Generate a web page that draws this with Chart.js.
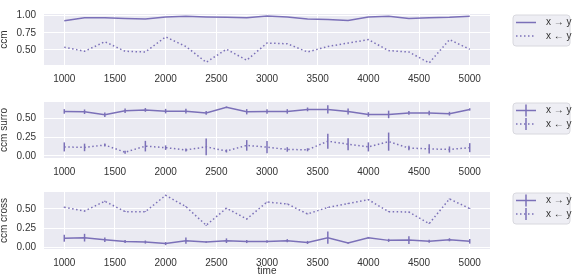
<!DOCTYPE html>
<html>
<head>
<meta charset="utf-8">
<script src="https://cdn.jsdelivr.net/npm/chart.js@4/dist/chart.umd.min.js"></script>
<style>
  html, body { margin: 0; padding: 0; background: #fff; overflow: hidden; }
  #wrap { position: relative; width: 573px; height: 275px; overflow: hidden; }
  #wrap canvas { position: absolute; left: 0; }
</style>
</head>
<body>
<div id="wrap">
  <canvas id="c1" width="573" height="88" style="top:0px"></canvas>
  <canvas id="c2" width="573" height="90" style="top:88px"></canvas>
  <canvas id="c3" width="573" height="107" style="top:178px"></canvas>
</div>
<script>
const times = [1000, 1200, 1400, 1600, 1800, 2000, 2200, 2400, 2600, 2800, 3000,
               3200, 3400, 3600, 3800, 4000, 4200, 4400, 4600, 4800, 5000];
const xTicks = [1000, 1500, 2000, 2500, 3000, 3500, 4000, 4500, 5000];
const legendLabels = ['x \u2192 y', 'x \u2190 y'];

// ccm
const ccmFwd = [0.927, 0.968, 0.968, 0.96, 0.95, 0.98, 0.99, 0.98, 0.975, 0.968, 0.995,
                0.98, 0.952, 0.944, 0.93, 0.98, 0.99, 0.96, 0.97, 0.975, 0.99];
const ccmRev = [0.54, 0.48, 0.62, 0.48, 0.47, 0.69, 0.55, 0.32, 0.51, 0.35, 0.60,
                0.59, 0.47, 0.55, 0.60, 0.65, 0.49, 0.47, 0.31, 0.65, 0.51];
const ccmTicks = [0.50, 0.75, 1.00];

// ccm surro
const surroFwd = [0.59, 0.586, 0.547, 0.60, 0.61, 0.594, 0.594, 0.57, 0.645, 0.586, 0.59,
                  0.59, 0.617, 0.617, 0.59, 0.55, 0.55, 0.57, 0.57, 0.56, 0.617];
const surroFwdErr = [0.03, 0.03, 0.03, 0.03, 0.025, 0.03, 0.03, 0.025, 0.01, 0.035, 0.03,
                     0.03, 0.025, 0.055, 0.04, 0.03, 0.05, 0.025, 0.03, 0.025, 0.015];
const surroRev = [0.12, 0.113, 0.145, 0.05, 0.13, 0.11, 0.08, 0.12, 0.066, 0.14, 0.117,
                  0.086, 0.082, 0.195, 0.156, 0.12, 0.19, 0.105, 0.094, 0.086, 0.11];
const surroRevErr = [0.06, 0.05, 0.02, 0.02, 0.07, 0.03, 0.02, 0.11, 0.02, 0.07, 0.08,
                     0.03, 0.02, 0.1, 0.08, 0.06, 0.12, 0.03, 0.06, 0.04, 0.06];
const surroTicks = [0.00, 0.25, 0.50];

// ccm cross
const crossFwd = [0.12, 0.127, 0.10, 0.077, 0.07, 0.05, 0.088, 0.07, 0.088, 0.077, 0.077,
                  0.088, 0.065, 0.127, 0.058, 0.127, 0.092, 0.096, 0.08, 0.10, 0.08];
const crossFwdErr = [0.045, 0.05, 0.03, 0.02, 0.02, 0.02, 0.04, 0.01, 0.03, 0.02, 0.015,
                     0.02, 0.02, 0.08, 0.01, 0.01, 0.02, 0.05, 0.02, 0.02, 0.03];
const crossRev = [0.523, 0.473, 0.60, 0.465, 0.465, 0.677, 0.53, 0.288, 0.51, 0.37, 0.59,
                  0.565, 0.435, 0.52, 0.57, 0.62, 0.465, 0.46, 0.31, 0.63, 0.505];
const crossRevErr = [0.005, 0.005, 0.005, 0.005, 0.005, 0.005, 0.005, 0.005, 0.005, 0.005, 0.005,
                     0.005, 0.005, 0.005, 0.005, 0.005, 0.005, 0.005, 0.005, 0.005, 0.005];
const crossTicks = [0.00, 0.25, 0.50];

const LINE = '#7b70b8';
const TEXT = '#333333';
const FONT = "'Liberation Sans', Arial, sans-serif";
const DOT = [1.5, 2.5];

function pts(vals) {
    return times.map((t, i) => ({ x: t, y: vals[i] }));
}

// plot background
const bgPlugin = {
    id: 'bg',
    beforeDraw(chart) {
        const { ctx, chartArea: a } = chart;
        ctx.save();
        ctx.fillStyle = '#eaeaf2';
        ctx.fillRect(a.left, a.top, a.right - a.left, a.bottom - a.top);
        ctx.restore();
    }
};

// vertical error bars, no caps
const errPlugin = {
    id: 'errbars',
    afterDatasetsDraw(chart) {
        const { ctx, scales: { x, y } } = chart;
        ctx.save();
        chart.data.datasets.forEach(ds => {
            if (!ds.errors) return;
            ctx.strokeStyle = ds.borderColor;
            ctx.lineWidth = 1.5;
            ctx.setLineDash([]);
            ds.data.forEach((p, i) => {
                const px = x.getPixelForValue(p.x);
                ctx.beginPath();
                ctx.moveTo(px, y.getPixelForValue(p.y - ds.errors[i]));
                ctx.lineTo(px, y.getPixelForValue(p.y + ds.errors[i]));
                ctx.stroke();
            });
        });
        ctx.restore();
    }
};

// legend box on the right
const legendPlugin = {
    id: 'sideLegend',
    afterDraw(chart) {
        const { ctx, chartArea: a } = chart;
        const withBars = chart.data.datasets.some(ds => ds.errors);
        const bx = 513, by = a.top + 1, bw = 57, bh = 31, r = 3;
        ctx.save();
        ctx.beginPath();
        ctx.moveTo(bx + r, by);
        ctx.arcTo(bx + bw, by, bx + bw, by + bh, r);
        ctx.arcTo(bx + bw, by + bh, bx, by + bh, r);
        ctx.arcTo(bx, by + bh, bx, by, r);
        ctx.arcTo(bx, by, bx + bw, by, r);
        ctx.closePath();
        ctx.fillStyle = '#eeeef4';
        ctx.fill();
        ctx.strokeStyle = '#d8d8de';
        ctx.lineWidth = 1;
        ctx.stroke();
        chart.data.datasets.forEach((ds, i) => {
            const ry = by + 7.5 + i * 13.5;
            ctx.strokeStyle = ds.borderColor;
            ctx.lineWidth = 1.5;
            ctx.setLineDash(ds.borderDash || []);
            ctx.beginPath();
            ctx.moveTo(516, ry);
            ctx.lineTo(536, ry);
            ctx.stroke();
            if (withBars) {
                ctx.setLineDash([]);
                ctx.beginPath();
                ctx.moveTo(526, ry - 6);
                ctx.lineTo(526, ry + 6);
                ctx.stroke();
            }
            ctx.fillStyle = TEXT;
            ctx.font = '10px ' + FONT;
            ctx.textBaseline = 'middle';
            ctx.textAlign = 'left';
            ctx.fillText(ds.label, 546, ry);
        });
        ctx.restore();
    }
};

function makeChart(id, cfg) {
    const datasets = [
        { label: legendLabels[0], data: pts(cfg.fwd), borderColor: LINE, borderWidth: 1.5,
          pointRadius: 0, tension: 0, errors: cfg.fwdErr },
        { label: legendLabels[1], data: pts(cfg.rev), borderColor: LINE, borderWidth: 1.5,
          borderDash: DOT, pointRadius: 0, tension: 0, errors: cfg.revErr }
    ];
    return new Chart(document.getElementById(id), {
        type: 'line',
        data: { datasets },
        plugins: [bgPlugin, errPlugin, legendPlugin],
        options: {
            responsive: false,
            animation: false,
            devicePixelRatio: 1,
            layout: { padding: { top: cfg.padTop, right: 83, left: 0, bottom: 0 } },
            plugins: { legend: { display: false }, tooltip: { enabled: false } },
            scales: {
                x: {
                    type: 'linear',
                    min: 800,
                    max: 5200,
                    afterFit: s => { s.height = cfg.xHeight; },
                    afterBuildTicks: s => { s.ticks = xTicks.map(v => ({ value: v })); },
                    grid: { color: '#ffffff', lineWidth: 1, drawTicks: false },
                    border: { display: false },
                    ticks: { color: TEXT, font: { family: FONT, size: 10 }, padding: 8,
                             maxRotation: 0, callback: v => String(v) },
                    title: { display: !!cfg.xTitle, text: cfg.xTitle || '', color: TEXT,
                             font: { family: FONT, size: 10, lineHeight: 1.2 },
                             padding: { top: 0, bottom: 8 } }
                },
                y: {
                    min: cfg.yMin,
                    max: cfg.yMax,
                    afterFit: s => { s.width = 44; },
                    afterBuildTicks: s => { s.ticks = cfg.yTicks.map(v => ({ value: v })); },
                    grid: { color: '#ffffff', lineWidth: 1, drawTicks: false },
                    border: { display: false },
                    ticks: { color: TEXT, font: { family: FONT, size: 10 }, padding: 8,
                             callback: v => v.toFixed(2) },
                    title: { display: true, text: cfg.yTitle, color: TEXT,
                             font: { family: FONT, size: 10, lineHeight: 1 },
                             padding: { top: -1, bottom: 0 } }
                }
            }
        }
    });
}

makeChart('c1', { fwd: ccmFwd, rev: ccmRev, yTicks: ccmTicks, yMin: 0.28, yMax: 1.024,
                  yTitle: 'ccm', padTop: 3, xHeight: 23 });
makeChart('c2', { fwd: surroFwd, rev: surroRev, fwdErr: surroFwdErr, revErr: surroRevErr,
                  yTicks: surroTicks, yMin: -0.027, yMax: 0.715,
                  yTitle: 'ccm surro', padTop: 6, xHeight: 20 });
makeChart('c3', { fwd: crossFwd, rev: crossRev, fwdErr: crossFwdErr, revErr: crossRevErr,
                  yTicks: crossTicks, yMin: -0.02, yMax: 0.72,
                  yTitle: 'ccm cross', padTop: 7, xHeight: 36, xTitle: 'time' });
</script>
</body>
</html>
